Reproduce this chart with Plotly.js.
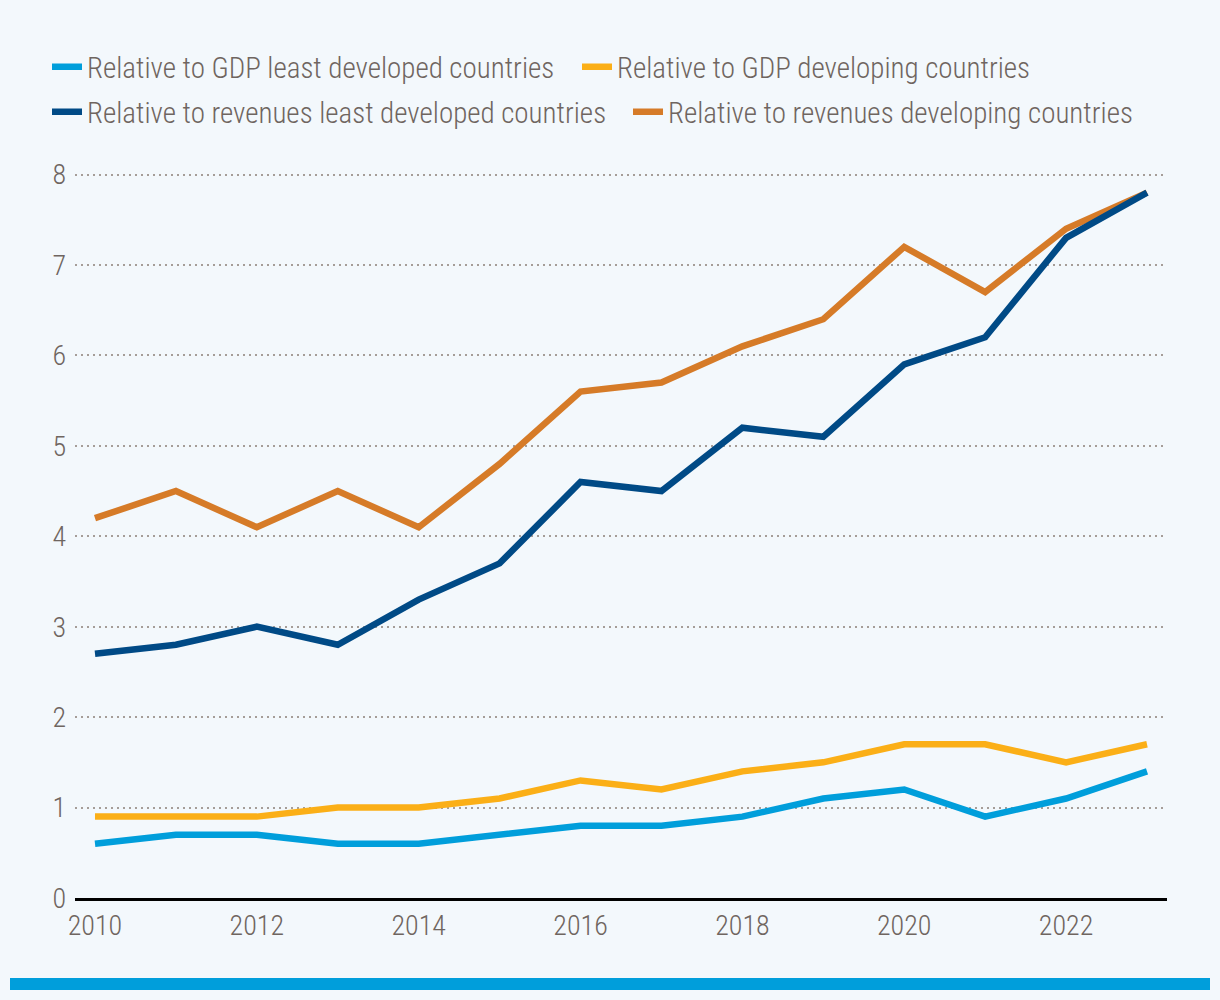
<!DOCTYPE html>
<html>
<head>
<meta charset="utf-8">
<script src="https://cdn.plot.ly/plotly-3.0.1.min.js"></script>
<style>
html,body{margin:0;padding:0;background:#f3f8fc;}
#chart{width:1220px;height:1000px;}
</style>
</head>
<body>
<div id="chart"></div>
<script>
const years = [2010,2011,2012,2013,2014,2015,2016,2017,2018,2019,2020,2021,2022,2023];
const gdpLeastDeveloped = [0.6,0.7,0.7,0.6,0.6,0.7,0.8,0.8,0.9,1.1,1.2,0.9,1.1,1.4];
const gdpDeveloping = [0.9,0.9,0.9,1.0,1.0,1.1,1.3,1.2,1.4,1.5,1.7,1.7,1.5,1.7];
const revenuesLeastDeveloped = [2.7,2.8,3.0,2.8,3.3,3.7,4.6,4.5,5.2,5.1,5.9,6.2,7.3,7.8];
const revenuesDeveloping = [4.2,4.5,4.1,4.5,4.1,4.8,5.6,5.7,6.1,6.4,7.2,6.7,7.4,7.8];
const seriesNames = [
  "Relative to GDP least developed countries",
  "Relative to GDP developing countries",
  "Relative to revenues least developed countries",
  "Relative to revenues developing countries"
];
const xTicks = [2010,2012,2014,2016,2018,2020,2022];
const yTicks = [0,1,2,3,4,5,6,7,8];

const FONT = "'Roboto Condensed', 'Liberation Sans Narrow', 'DejaVu Sans Condensed', sans-serif";
const TXT = "#6f6560";
const colors = ["#009edb", "#fbaf17", "#004a86", "#d67b28"];

function tr(y, i, leg) {
  return {
    x: years, y: y, name: seriesNames[i], type: "scatter", mode: "lines",
    line: {color: colors[i], width: 6.5},
    legend: leg, cliponaxis: false, hoverinfo: "skip"
  };
}
const data = [
  tr(revenuesDeveloping, 3, "legend4"),
  tr(revenuesLeastDeveloped, 2, "legend3"),
  tr(gdpDeveloping, 1, "legend2"),
  tr(gdpLeastDeveloped, 0, "legend")
];

function leg(xpx, ypx) {
  return {
    x: xpx / 1220, y: 1 - ypx / 1000, xref: "container", yref: "container",
    xanchor: "left", yanchor: "middle", orientation: "h",
    bgcolor: "rgba(0,0,0,0)", borderwidth: 0,
    font: {family: FONT, size: 29, color: TXT, weight: 300}
  };
}

const plotH = 728;
const layout = {
  width: 1220, height: 1000,
  paper_bgcolor: "#f3f8fc", plot_bgcolor: "#f3f8fc",
  margin: {l: 75, r: 53, t: 1000 - 102 - plotH, b: 102},
  font: {family: FONT, color: TXT, weight: 300},
  showlegend: true,
  legend: leg(47, 67),
  legend2: leg(577, 67),
  legend3: leg(47, 112),
  legend4: leg(628, 112),
  xaxis: {
    range: [2009.753, 2023.247],
    tickvals: xTicks, ticktext: xTicks.map(String),
    showgrid: false, zeroline: false,
    showline: true, linecolor: "#000000", linewidth: 3,
    ticks: "", ticklabelstandoff: 0,
    tickfont: {family: FONT, size: 28, color: TXT, weight: 300}
  },
  yaxis: {
    range: [0, 8.05], tickvals: yTicks, ticktext: yTicks.map(String),
    showgrid: true, gridcolor: "#a59d98", gridwidth: 2, griddash: "2px,4px",
    zeroline: false, showline: false, ticks: "", ticklabelstandoff: 8,
    tickfont: {family: FONT, size: 28, color: TXT, weight: 300}
  },
  shapes: [{
    type: "rect", xref: "paper", yref: "paper",
    x0: (10 - 75) / 1092, x1: (1210 - 75) / 1092,
    y0: -(990 - 898) / plotH, y1: -(978 - 898) / plotH,
    fillcolor: "#009edb", line: {width: 0}, layer: "above"
  }]
};

Plotly.newPlot("chart", data, layout, {displayModeBar: false, staticPlot: true});
</script>
</body>
</html>
